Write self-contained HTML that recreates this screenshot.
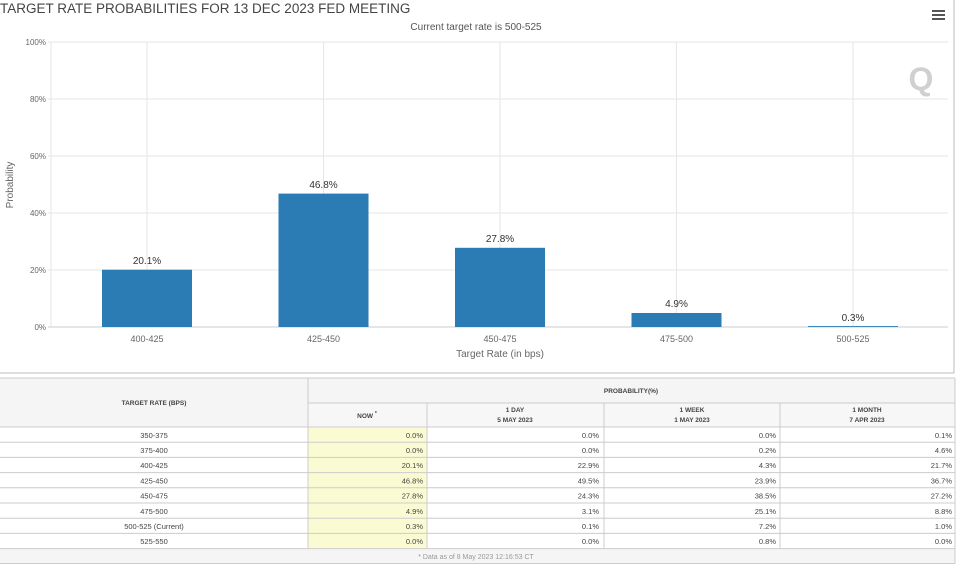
<!DOCTYPE html>
<html><head><meta charset="utf-8"><style>
html,body{margin:0;padding:0;background:#fff;width:960px;height:565px;overflow:hidden}
svg{display:block;font-family:"Liberation Sans","DejaVu Sans",sans-serif}
</style></head><body>
<svg width="960" height="565" viewBox="0 0 960 565" xmlns="http://www.w3.org/2000/svg">
<rect x="0" y="0" width="960" height="565" fill="#fff"/>
<!-- chart border -->
<line x1="954" y1="0" x2="954" y2="373" stroke="#bbb" stroke-width="1"/>
<line x1="0" y1="373" x2="954" y2="373" stroke="#bbb" stroke-width="1"/>
<text x="0" y="13" font-size="13.5" fill="#444">TARGET RATE PROBABILITIES FOR 13 DEC 2023 FED MEETING</text>
<text x="476" y="30" font-size="10" fill="#555" text-anchor="middle">Current target rate is 500-525</text>
<g fill="#555"><rect x="932" y="10" width="13" height="2"/><rect x="932" y="14" width="13" height="2"/><rect x="932" y="18" width="13" height="2"/></g>
<!-- grid -->
<g stroke="#e6e6e6" stroke-width="1">
<line x1="48" y1="42" x2="948" y2="42"/><line x1="48" y1="99" x2="948" y2="99"/>
<line x1="48" y1="156" x2="948" y2="156"/><line x1="48" y1="213" x2="948" y2="213"/>
<line x1="48" y1="270" x2="948" y2="270"/>
<line x1="147" y1="42" x2="147" y2="327"/><line x1="323.5" y1="42" x2="323.5" y2="327"/>
<line x1="500" y1="42" x2="500" y2="327"/><line x1="676.5" y1="42" x2="676.5" y2="327"/>
<line x1="853" y1="42" x2="853" y2="327"/>
<line x1="51" y1="42" x2="51" y2="327"/>
</g>
<line x1="48" y1="327" x2="948" y2="327" stroke="#ccc"/>
<text x="921" y="90" font-size="32" font-weight="bold" fill="#d0d0d0" text-anchor="middle">Q</text>
<g font-size="8" fill="#666" text-anchor="end">
<text x="46" y="45">100%</text><text x="46" y="102">80%</text><text x="46" y="159">60%</text>
<text x="46" y="216">40%</text><text x="46" y="273">20%</text><text x="46" y="330">0%</text>
</g>
<text transform="translate(13,185) rotate(-90)" font-size="10" fill="#666" text-anchor="middle">Probability</text>
<g fill="#2b7bb5">
<rect x="102" y="269.7" width="90" height="57.3"/>
<rect x="278.5" y="193.6" width="90" height="133.4"/>
<rect x="455" y="247.8" width="90" height="79.2"/>
<rect x="631.5" y="313" width="90" height="14"/>
<rect x="808" y="326.1" width="90" height="0.9"/>
</g>
<g font-size="10" fill="#333" text-anchor="middle">
<text x="147" y="264">20.1%</text><text x="323.5" y="188">46.8%</text>
<text x="500" y="242">27.8%</text><text x="676.5" y="307">4.9%</text><text x="853" y="321">0.3%</text>
</g>
<g font-size="9" fill="#666" text-anchor="middle">
<text x="147" y="342">400-425</text><text x="323.5" y="342">425-450</text>
<text x="500" y="342">450-475</text><text x="676.5" y="342">475-500</text><text x="853" y="342">500-525</text>
</g>
<text x="500" y="357" font-size="10" fill="#666" text-anchor="middle">Target Rate (in bps)</text>
<!-- table -->
<rect x="0" y="378" width="955" height="49" fill="#f5f5f5"/>
<rect x="308" y="403" width="647" height="24" fill="#f7f7f7"/>
<rect x="308" y="427" width="119" height="121.6" fill="#fbfbd3"/>
<rect x="0" y="548.6" width="955" height="15" fill="#f5f5f5"/>
<g stroke="#ccc" stroke-width="1">
<line x1="0" y1="378" x2="955" y2="378"/>
<line x1="308" y1="403" x2="955" y2="403"/>
<line x1="0" y1="427" x2="955" y2="427"/>
<line x1="0" y1="442.2" x2="955" y2="442.2"/><line x1="0" y1="457.4" x2="955" y2="457.4"/>
<line x1="0" y1="472.6" x2="955" y2="472.6"/><line x1="0" y1="487.8" x2="955" y2="487.8"/>
<line x1="0" y1="503" x2="955" y2="503"/><line x1="0" y1="518.2" x2="955" y2="518.2"/>
<line x1="0" y1="533.4" x2="955" y2="533.4"/><line x1="0" y1="548.6" x2="955" y2="548.6"/>
<line x1="0" y1="563.5" x2="955" y2="563.5"/>
<line x1="308" y1="378" x2="308" y2="548.6"/>
<line x1="427" y1="403" x2="427" y2="548.6"/>
<line x1="604" y1="403" x2="604" y2="548.6"/>
<line x1="780" y1="403" x2="780" y2="548.6"/>
<line x1="955" y1="378" x2="955" y2="563.5"/>
</g>
<g font-size="6.5" font-weight="bold" fill="#444" text-anchor="middle">
<text x="154" y="405">TARGET RATE (BPS)</text>
<text x="631" y="393">PROBABILITY(%)</text>
<text x="367" y="418">NOW <tspan font-size="5" dy="-3">*</tspan></text>
<text x="515" y="412">1 DAY</text><text x="515" y="422">5 MAY 2023</text>
<text x="692" y="412">1 WEEK</text><text x="692" y="422">1 MAY 2023</text>
<text x="867" y="412">1 MONTH</text><text x="867" y="422">7 APR 2023</text>
</g>
<g font-size="7.5" fill="#444">
<g text-anchor="middle">
<text x="154" y="438">350-375</text><text x="154" y="453">375-400</text><text x="154" y="468">400-425</text>
<text x="154" y="483.5">425-450</text><text x="154" y="498.5">450-475</text><text x="154" y="514">475-500</text>
<text x="154" y="529">500-525 (Current)</text><text x="154" y="544">525-550</text>
</g>
<g text-anchor="end">
<text x="423" y="438">0.0%</text><text x="599" y="438">0.0%</text><text x="776" y="438">0.0%</text><text x="952" y="438">0.1%</text>
<text x="423" y="453">0.0%</text><text x="599" y="453">0.0%</text><text x="776" y="453">0.2%</text><text x="952" y="453">4.6%</text>
<text x="423" y="468">20.1%</text><text x="599" y="468">22.9%</text><text x="776" y="468">4.3%</text><text x="952" y="468">21.7%</text>
<text x="423" y="483.5">46.8%</text><text x="599" y="483.5">49.5%</text><text x="776" y="483.5">23.9%</text><text x="952" y="483.5">36.7%</text>
<text x="423" y="498.5">27.8%</text><text x="599" y="498.5">24.3%</text><text x="776" y="498.5">38.5%</text><text x="952" y="498.5">27.2%</text>
<text x="423" y="514">4.9%</text><text x="599" y="514">3.1%</text><text x="776" y="514">25.1%</text><text x="952" y="514">8.8%</text>
<text x="423" y="529">0.3%</text><text x="599" y="529">0.1%</text><text x="776" y="529">7.2%</text><text x="952" y="529">1.0%</text>
<text x="423" y="544">0.0%</text><text x="599" y="544">0.0%</text><text x="776" y="544">0.8%</text><text x="952" y="544">0.0%</text>
</g>
</g>
<text x="476" y="559" font-size="7" fill="#999" text-anchor="middle">* Data as of 8 May 2023 12:16:53 CT</text>
</svg>
</body></html>
